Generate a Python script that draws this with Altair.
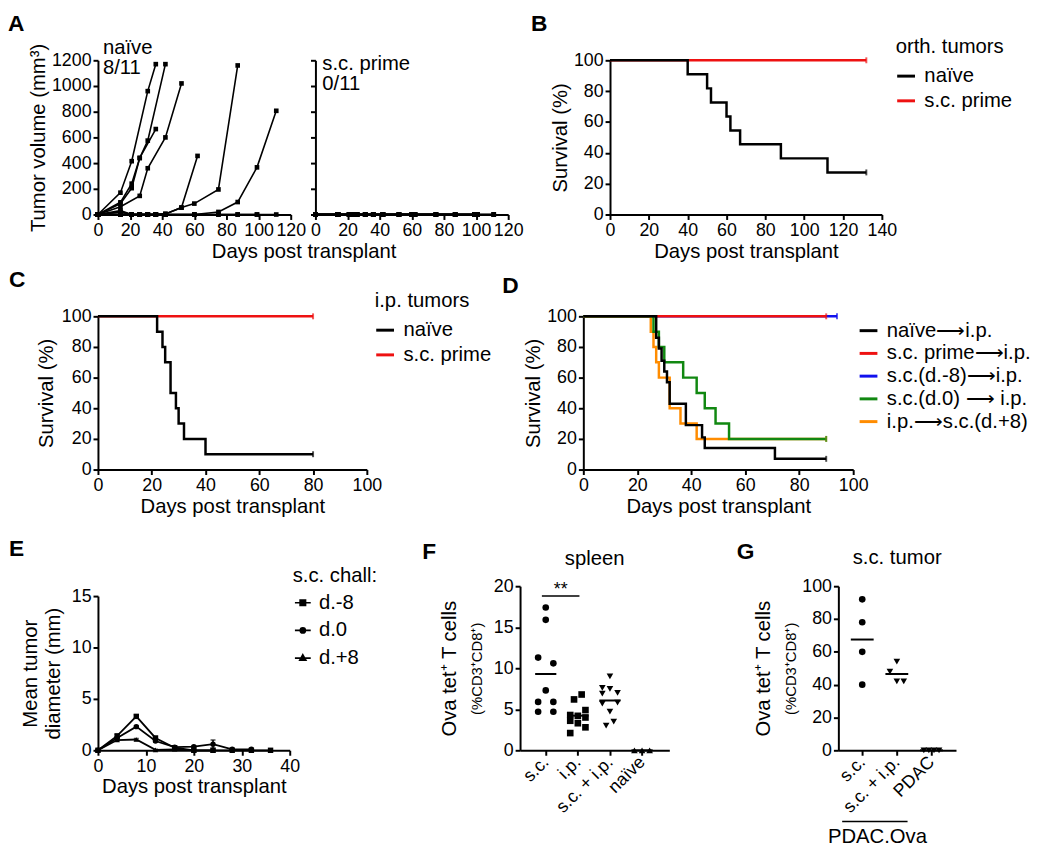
import json
import altair as alt
import pandas as pd

FONT = "Liberation Sans"

# ================= DATA =================
# ---- A: individual tumour volumes (mm3)
A_naive_days = [
    [0, 14, 21, 31, 36],
    [0, 14, 21, 26, 31, 42],
    [0, 14, 21, 26, 36],
    [0, 14, 26, 31, 42, 52],
    [0, 14, 21, 26, 31, 36, 42, 52, 62],
    [0, 14, 21, 26, 31, 36, 42, 52, 60, 75, 87],
    [0, 14, 21, 31, 36, 42, 60, 75, 87, 99, 111],
    [0, 14, 21, 26, 31, 36, 42],
    [0, 14, 21, 31, 42, 60, 75, 87, 99],
    [0, 14, 21, 26, 31, 36, 42, 60, 75, 87, 99, 111],
    [0, 14, 21, 26, 31, 36, 42],
]
A_naive_vol = [
    [0, 170, 415, 960, 1170],
    [0, 95, 240, 440, 575, 1170],
    [0, 85, 205, 440, 665],
    [0, 60, 145, 360, 600, 1020],
    [0, 20, 0, 0, 0, 0, 5, 54, 456],
    [0, 20, 0, 0, 0, 0, 5, 54, 85, 195, 1160],
    [0, 0, 0, 0, 0, 0, 0, 20, 97, 367, 807],
    [0, 30, 0, 0, 0, 0, 0],
    [0, 0, 0, 0, 0, 0, 0, 0, 0],
    [0, 0, 0, 0, 0, 0, 0, 0, 0, 0, 0, 0],
    [0, 0, 0, 0, 0, 0, 0],
]
A_prime_days = [
    [0, 14, 21, 26, 31, 36, 42, 52, 60, 75, 87, 99, 111],
    [0, 14, 24, 31, 42, 62, 87, 101],
    [0, 14, 21, 26, 36, 52, 60, 75, 99],
    [0, 14, 21, 31, 42, 62, 87, 101, 111],
    [0, 14, 24, 36, 52, 75, 99],
    [0, 14, 21, 26, 31, 36, 42, 52, 60],
    [0, 14, 21, 31, 42, 60, 75, 87],
    [0, 14, 24, 36, 62, 99, 111],
    [0, 14, 21, 26, 42, 60, 87],
    [0, 14, 21, 31, 36, 52, 75, 101],
    [0, 14, 24, 42, 62, 99],
]
A_prime_vol = [
    [0, 0, 0, 0, 0, 0, 0, 0, 0, 0, 0, 0, 0],
    [0, 0, 0, 0, 0, 0, 0, 0],
    [0, 0, 0, 0, 0, 0, 0, 0, 0],
    [0, 0, 0, 0, 0, 0, 0, 0, 0],
    [0, 0, 0, 0, 0, 0, 0],
    [0, 0, 0, 0, 0, 0, 0, 0, 0],
    [0, 0, 0, 0, 0, 0, 0, 0],
    [0, 0, 0, 0, 0, 0, 0],
    [0, 0, 0, 0, 0, 0, 0],
    [0, 0, 0, 0, 0, 0, 0, 0],
    [0, 0, 0, 0, 0, 0],
]
A_naive_label = ["naïve", "8/11"]
A_prime_label = ["s.c. prime", "0/11"]
A_xticks = [0, 20, 40, 60, 80, 100, 120]
A_yticks = [0, 200, 400, 600, 800, 1000, 1200]

# ---- B: survival, orthotopic tumours
B_groups = ["naïve", "s.c. prime"]
B_colors = ["#000000", "#ee1111"]
B_naive_days = [0, 40, 50, 52, 60, 62, 67, 88, 112, 132]
B_naive_surv = [100, 90.9, 81.8, 72.7, 63.6, 54.5, 45.5, 36.4, 27.3, 27.3]
B_prime_days = [0, 132]
B_prime_surv = [100, 100]

# ---- C: survival, i.p. tumours
C_groups = ["naïve", "s.c. prime"]
C_colors = ["#000000", "#ee1111"]
C_naive_days = [0, 22, 24, 25, 27, 29, 30, 32, 40, 80]
C_naive_surv = [100, 90, 80, 70, 50, 40, 30, 20, 10, 10]
C_prime_days = [0, 80]
C_prime_surv = [100, 100]

# ---- D: survival, combined challenges
D_groups = ["naïve⟶i.p.", "s.c. prime⟶i.p.", "s.c.(d.-8)⟶i.p.",
            "s.c.(d.0) ⟶ i.p.", "i.p.⟶s.c.(d.+8)"]
D_colors = ["#000000", "#ee1111", "#1111ee", "#118811", "#ff8c00"]
D_naive_days = [0, 27, 28, 29, 30, 31, 32, 38, 44, 45, 71, 90]
D_naive_surv = [100, 86, 79, 71, 64, 57, 43, 29, 21, 14, 7, 7]
D_prime_days = [0, 90]
D_prime_surv = [100, 100]
D_m8_days = [0, 94]
D_m8_surv = [100, 100]
D_d0_days = [0, 26, 28, 30, 37, 42, 45, 49, 54, 90]
D_d0_surv = [100, 90, 80, 70, 60, 50, 40, 30, 20, 20]
D_p8_days = [0, 25, 26, 27, 28, 32, 36, 42, 90]
D_p8_surv = [100, 90, 80, 70, 60, 40, 30, 20, 20]

# ---- E: mean tumour diameter (mm) after s.c. challenge
E_groups = ["d.-8", "d.0", "d.+8"]
E_m8_days = [0, 4, 8, 12, 16, 20, 24, 28, 32, 36]
E_m8_mean = [0, 1.4, 3.3, 1.2, 0.25, 0.0, 0.0, 0.0, 0.0, 0.0]
E_m8_sem = [0, 0.15, 0.15, 0.1, 0.05, 0, 0, 0, 0, 0]
E_d0_days = [0, 4, 8, 12, 16, 20, 24, 28, 32]
E_d0_mean = [0, 1.2, 2.3, 0.9, 0.3, 0.35, 0.6, 0.1, 0.1]
E_d0_sem = [0, 0.1, 0.1, 0.1, 0.1, 0.1, 0.4, 0.05, 0.05]
E_p8_days = [0, 4, 8, 12, 16, 20, 24]
E_p8_mean = [0, 1.0, 1.05, 0.05, 0.1, 0.0, 0.0]
E_p8_sem = [0, 0.1, 0.1, 0.05, 0.05, 0, 0]

# ---- F: spleen tetramer+ T cells
F_groups = ["s.c.", "i.p.", "s.c. + i.p.", "naïve"]
F_shapes = ["circle", "square", "triangle-down", "triangle-up"]
F_values = [
    [17.4, 15.9, 11.3, 10.6, 7.3, 5.9, 5.9, 4.7, 4.7],
    [6.8, 6.2, 4.9, 4.3, 4.2, 4.0, 3.6, 3.3, 2.8, 2.1],
    [9.0, 7.6, 7.5, 7.0, 6.9, 5.8, 5.7, 4.7, 3.5, 3.0],
    [0.0, 0.0, 0.0],
]
F_slots = [
    [0, 0, -1, 1, 0, -1, 1, -1, 1],
    [0.5, -0.5, 1, -1, 0, 1, -1, 0, 1, -1],
    [0, -1, 0, 1, -1, 1, -1, 0, 0.5, -0.5],
    [-1, 0, 1],
]
F_sig_pair = ["s.c.", "i.p."]
F_sig_level = 18.8
F_sig_text = "**"

# ---- G: s.c. tumour tetramer+ T cells
G_groups = ["s.c.", "s.c. + i.p.", "PDAC"]
G_shapes = ["circle", "triangle-down", "triangle-down"]
G_values = [
    [92, 78, 60, 40],
    [54, 48, 42, 42],
    [0, 0, 0, 0],
]
G_slots = [
    [0, 0, 0, 0],
    [0, -1, 0, 1],
    [-1.1, -0.37, 0.37, 1.1],
]
G_bracket_groups = ["s.c.", "s.c. + i.p."]
G_bracket_label = "PDAC.Ova"

# ================= HELPERS =================
TS = 20.5   # axis-title / legend font size


def curves_df(days_lists, vals_lists, prefix):
    rows = []
    for i, (ds, vs) in enumerate(zip(days_lists, vals_lists)):
        for d, v in zip(ds, vs):
            rows.append({"mouse": f"{prefix}{i + 1}", "day": d, "vol": v})
    return pd.DataFrame(rows)


def series_df(groups, days_lists, vals_lists):
    rows = []
    for g, ds, vs in zip(groups, days_lists, vals_lists):
        for d, v in zip(ds, vs):
            rows.append({"group": g, "day": d, "surv": v})
    return pd.DataFrame(rows)


def letter(text, dx, offset, anchor="start"):
    return alt.TitleParams(text, anchor=anchor, frame="group", dx=dx, offset=offset,
                           fontSize=23, fontWeight="bold", font=FONT, color="black")


def spacer(w, h, title=None):
    c = alt.Chart(pd.DataFrame({"s": [0]})).mark_point(opacity=0).encode(
        x=alt.value(0), y=alt.value(0)).properties(width=w, height=h)
    if title is not None:
        c = c.properties(title=title)
    return c


def indep(c):
    return c.resolve_scale(color="independent", shape="independent").resolve_legend(
        color="independent", shape="independent")


XT = dict(titleY=27, titleBaseline="top")

# ================= PANEL A =================
def growth(df, label, show_y, xtitle, title_dx):
    x = alt.X("day:Q", scale=alt.Scale(domain=[0, 120], nice=False),
              axis=alt.Axis(values=A_xticks, title="Days post transplant" if xtitle else None,
                            titleX=-12, **XT))
    if show_y:
        yax = alt.Axis(values=A_yticks, format="d", title="Tumor volume (mm³)", titleX=-50,
                       titleBaseline="bottom")
    else:
        yax = alt.Axis(values=A_yticks, labels=False, title=None)
    y = alt.Y("vol:Q", scale=alt.Scale(domain=[0, 1200], nice=False), axis=yax)
    base = alt.Chart(df).encode(x=x, y=y, detail="mouse:N")
    lines = base.mark_line(color="black", strokeWidth=1.6)
    pts = base.mark_point(shape="square", filled=True, size=22, color="black", opacity=1)
    return alt.layer(lines, pts).properties(
        width=195, height=156,
        title=alt.TitleParams(label, anchor="start", frame="group", align="left", dx=title_dx,
                              offset=-36, fontSize=TS, fontWeight="normal", lineHeight=21,
                              font=FONT, color="black"))


A_left = growth(curves_df(A_naive_days, A_naive_vol, "n"), A_naive_label, True, False, 5)
A_right = growth(curves_df(A_prime_days, A_prime_vol, "p"), A_prime_label, False, True, 7)

# ================= SURVIVAL PANELS =================
def survival(df, field, groups, colors, xmax, width, height, legend, title, ytitle_x,
             draw_order):
    df = pd.concat([df[df.group == g] for g in draw_order], ignore_index=True)
    df = df.rename(columns={"group": field})
    x = alt.X("day:Q", scale=alt.Scale(domain=[0, xmax], nice=False),
              axis=alt.Axis(values=list(range(0, xmax + 1, 20)), title="Days post transplant", **XT))
    y = alt.Y("surv:Q", scale=alt.Scale(domain=[0, 100], nice=False),
              axis=alt.Axis(values=[0, 20, 40, 60, 80, 100], title="Survival (%)",
                            titleX=ytitle_x, titleBaseline="bottom"))
    cscale = alt.Scale(domain=groups, range=colors)
    line = alt.Chart(df).mark_line(interpolate="step-after", strokeWidth=2.5).encode(
        x=x, y=y, color=alt.Color(f"{field}:N", scale=cscale, legend=legend))
    ends = alt.Chart(df).transform_joinaggregate(
        last="max(day)", groupby=[field]).transform_filter(
        "datum.day == datum.last").mark_tick(orient="vertical", size=6, thickness=2).encode(
        x=x, y=y, color=alt.Color(f"{field}:N", scale=cscale, legend=None))
    return alt.layer(line, ends).properties(width=width, height=height, title=title)


def surv_legend(title, lx, ly, row_pad):
    kw = dict(orient="none", legendX=lx, legendY=ly, symbolType="stroke", symbolSize=324,
              symbolStrokeWidth=3, labelFontSize=TS, titleFontSize=TS, titleFontWeight="normal",
              rowPadding=row_pad, titlePadding=8, labelOffset=8, labelLimit=500,
              titleLimit=500)
    return alt.Legend(title=title, **kw)


B = survival(series_df(B_groups, [B_naive_days, B_prime_days], [B_naive_surv, B_prime_surv]),
             "orth", B_groups, B_colors, 140, 275, 156,
             surv_legend("orth. tumors", 289, -23, 4),
             letter("B", -80, 2), -40, ["s.c. prime", "naïve"])

C = survival(series_df(C_groups, [C_naive_days, C_prime_days], [C_naive_surv, C_prime_surv]),
             "ipt", C_groups, C_colors, 100, 272, 155,
             surv_legend("i.p. tumors", 280, -25, 4),
             letter("C", -90, 0), -42, ["s.c. prime", "naïve"])

D = survival(series_df(D_groups,
                       [D_naive_days, D_prime_days, D_m8_days, D_d0_days, D_p8_days],
                       [D_naive_surv, D_prime_surv, D_m8_surv, D_d0_surv, D_p8_surv]),
             "route", D_groups, D_colors, 100, 273, 155, surv_legend(None, 278, 4, 2),
             letter("D", -82, 10), -40,
             ["s.c.(d.-8)⟶i.p.", "s.c. prime⟶i.p.", "i.p.⟶s.c.(d.+8)", "s.c.(d.0) ⟶ i.p.",
              "naïve⟶i.p."])

# ================= PANEL E =================
E_rows = []
for g, ds, ms, ss in zip(E_groups, [E_m8_days, E_d0_days, E_p8_days],
                         [E_m8_mean, E_d0_mean, E_p8_mean], [E_m8_sem, E_d0_sem, E_p8_sem]):
    for d, m, s in zip(ds, ms, ss):
        E_rows.append({"chall": g, "day": d, "mean": m, "lo": max(m - s, 0), "hi": m + s})
E_df = pd.DataFrame(E_rows)

E_H = 166
eX = alt.X("day:Q", scale=alt.Scale(domain=[0, 40], nice=False),
           axis=alt.Axis(values=[0, 10, 20, 30, 40], title="Days post transplant", **XT))
eYscale = alt.Scale(domain=[0, 15], nice=False, range=[E_H, 10])
eYaxis = alt.Axis(values=[0, 5, 10, 15], title=["Mean tumor", "diameter (mm)"], titleX=-58,
                  titleBaseline="bottom", titleLineHeight=23)
eY = alt.Y("mean:Q", scale=eYscale, axis=eYaxis)
E_err = alt.Chart(E_df).mark_errorbar(ticks=True, color="black", thickness=1.5).encode(
    x=eX, y=alt.Y("lo:Q", scale=eYscale, axis=eYaxis, title=["Mean tumor", "diameter (mm)"]),
    y2="hi:Q")
E_line = alt.Chart(E_df).mark_line(color="black", strokeWidth=1.8).encode(
    x=eX, y=eY, detail="chall:N")
E_pts = alt.Chart(E_df).mark_point(filled=True, color="black", size=30, opacity=1).encode(
    x=eX, y=eY,
    shape=alt.Shape("chall:N", scale=alt.Scale(domain=E_groups,
                                                range=["square", "circle", "triangle-up"]),
                    legend=None))
# legend glyphs: a short line with the series marker on it (nested outlines read as solid)
E_legend_paths = [
    "M-1,0H1M-0.34,-0.34H0.34V0.34H-0.34ZM-0.16,-0.16H0.16V0.16H-0.16Z",
    "M-1,0H1M-0.32,0A0.32,0.32 0 1,0 0.32,0A0.32,0.32 0 1,0 -0.32,0Z"
    "M-0.14,0A0.14,0.14 0 1,0 0.14,0A0.14,0.14 0 1,0 -0.14,0Z",
    "M-1,0H1M0,-0.42L0.38,0.26H-0.38ZM0,-0.18L0.17,0.12H-0.17Z",
]
E_leg = alt.Chart(E_df).transform_filter("false").mark_point(
    filled=False, color="black", strokeWidth=1.7, size=256, opacity=1).encode(
    x=eX, y=eY,
    shape=alt.Shape("chall:N", scale=alt.Scale(domain=E_groups, range=E_legend_paths),
                    legend=alt.Legend(title="s.c. chall:", orient="none", legendX=197, legendY=-20,
                                      labelFontSize=TS, titleFontSize=TS,
                                      titleFontWeight="normal", rowPadding=7, titlePadding=6,
                                      labelOffset=6, symbolStrokeColor="black",
                                      symbolStrokeWidth=1.7, symbolSize=256)))
E = alt.layer(E_err, E_line, E_pts, E_leg).resolve_scale(shape="independent").properties(
    width=194, height=E_H, title=letter("E", -90, 6))

# ================= SCATTER PANELS F & G =================
def dot_df(groups, values, slots, unit, field):
    rows = []
    for i, (g, vs, ss) in enumerate(zip(groups, values, slots)):
        for v, s in zip(vs, ss):
            rows.append({field: g, "idx": i + 1, "val": v, "pos": i + 1 + s * unit})
    return pd.DataFrame(rows)


def dot_panel(groups, shapes, values, slots, unit, field, ymax, ystep, xdom, t1x, t2x,
              xaxis_extra=None):
    df = dot_df(groups, values, slots, unit, field)
    lab = json.dumps(groups)
    xkw = dict(values=list(range(1, len(groups) + 1)), labelExpr=f"{lab}[datum.value - 1]",
               labelAngle=315, labelAlign="right", labelBaseline="middle", title=None,
               labelOverlap=False, labelPadding=4)
    if xaxis_extra:
        xkw.update(xaxis_extra)
    xaxis = alt.Axis(**xkw)
    xs = alt.Scale(domain=xdom, nice=False)
    ys = alt.Scale(domain=[0, ymax], nice=False)
    yvals = list(range(0, ymax + 1, ystep))
    pts = alt.Chart(df).mark_point(filled=True, color="black", size=45, opacity=1).encode(
        x=alt.X("pos:Q", scale=xs, axis=xaxis),
        y=alt.Y("val:Q", scale=ys,
                axis=alt.Axis(values=yvals, title="(%CD3⁺CD8⁺)", titleFontSize=15,
                              titleX=t1x, titleBaseline="bottom", orient="left")),
        shape=alt.Shape(f"{field}:N", scale=alt.Scale(domain=groups, range=shapes), legend=None))
    means = alt.Chart(df).transform_aggregate(
        avg="mean(val)", groupby=[field, "idx"]).transform_calculate(
        x1="datum.idx - 0.33", x2="datum.idx + 0.33").mark_rule(
        color="black", strokeWidth=2).encode(
        x=alt.X("x1:Q", scale=xs, axis=xaxis), x2="x2:Q",
        y=alt.Y("avg:Q", scale=ys,
                axis=alt.Axis(values=yvals, title="Ova tet⁺ T cells", labels=False, ticks=False,
                              domain=False, titleX=t2x, titleBaseline="bottom", orient="left")))
    return xs, ys, xaxis, pts, means


F_xs, F_ys, F_xaxis, F_pts, F_means = dot_panel(
    F_groups, F_shapes, F_values, F_slots, 0.237, "spl", 20, 5, [0.2, 4.85], -36, -61)
F_sig = pd.DataFrame({
    "x1": [F_groups.index(F_sig_pair[0]) + 1 - 0.12],
    "x2": [F_groups.index(F_sig_pair[1]) + 1 + 0.05],
    "y": [F_sig_level], "t": [F_sig_text]})
F_sig_rule = alt.Chart(F_sig).mark_rule(color="black", strokeWidth=1.5).encode(
    x=alt.X("x1:Q", scale=F_xs, axis=F_xaxis), x2="x2:Q",
    y=alt.Y("y:Q", scale=F_ys, axis=None))
F_sig_txt = alt.Chart(F_sig).transform_calculate(xm="(datum.x1 + datum.x2) / 2").mark_text(
    fontSize=18, baseline="alphabetic", dy=-1, font=FONT, color="black").encode(
    x=alt.X("xm:Q", scale=F_xs, axis=F_xaxis), y=alt.Y("y:Q", scale=F_ys, axis=None), text="t:N")
F = alt.layer(F_pts, F_means, F_sig_rule, F_sig_txt).resolve_axis(y="independent").properties(
    width=151, height=166,
    title=alt.TitleParams("spleen", anchor="middle", frame="group", offset=8, fontSize=TS,
                          fontWeight="normal", font=FONT, color="black"))

G_xs, G_ys, G_xaxis, G_pts, G_means = dot_panel(
    G_groups, G_shapes, G_values, G_slots, 0.2, "tum", 100, 20, [0.31, 3.71], -40, -66,
    xaxis_extra=dict(title=G_bracket_label, titleX=39, titleY=77, titleBaseline="top",
                     titleAlign="center"))
G_br = pd.DataFrame({
    "x1": [G_groups.index(G_bracket_groups[0]) + 1 - 0.58],
    "x2": [G_groups.index(G_bracket_groups[-1]) + 1 + 0.31]})
G_bracket = alt.Chart(G_br).mark_rule(color="black", strokeWidth=1.5).encode(
    x=alt.X("x1:Q", scale=G_xs, axis=G_xaxis), x2="x2:Q", y=alt.value(166 + 72))
G = alt.layer(G_pts, G_means, G_bracket).resolve_axis(y="independent").properties(
    width=119, height=166,
    title=alt.TitleParams("s.c. tumor", anchor="middle", frame="group", offset=9, fontSize=TS,
                          fontWeight="normal", font=FONT, color="black"))

# ================= LAYOUT =================
# row 1: A(naive) | A(s.c. prime) | gap carrying the "A" letter | B
row1 = indep(alt.hconcat(A_left, A_right, spacer(53, 156, letter("A", -531, 22)), B,
                         spacing=25, bounds="flush"))
row2 = indep(alt.hconcat(C, D, spacing=219, bounds="flush"))
row3 = indep(alt.hconcat(E, spacer(213, 166, letter("F", -75, 20, "end")), F,
                         spacer(151, 166, letter("G", -75, 20, "end")), G,
                         spacing=10, bounds="flush"))

inner = indep(alt.vconcat(row1, row2, spacing=7))
chart = indep(alt.vconcat(inner, row3, spacing=21)).properties(
    padding={"left": 0, "top": 0, "right": 10, "bottom": 2}
).configure(font=FONT).configure_view(stroke=None).configure_axis(
    domainColor="black", domainWidth=2, tickColor="black", tickWidth=2, tickSize=5,
    labelFontSize=18, labelColor="black", labelFont=FONT, labelPadding=2, labelOverlap=False,
    labelFlush=False,
    titleFont=FONT, titleFontSize=TS, titleFontWeight="normal", titleColor="black", grid=False
).configure_legend(labelFont=FONT, titleFont=FONT, labelColor="black", titleColor="black")

chart.save("out.html", embed_options={"renderer": "svg", "actions": False})
